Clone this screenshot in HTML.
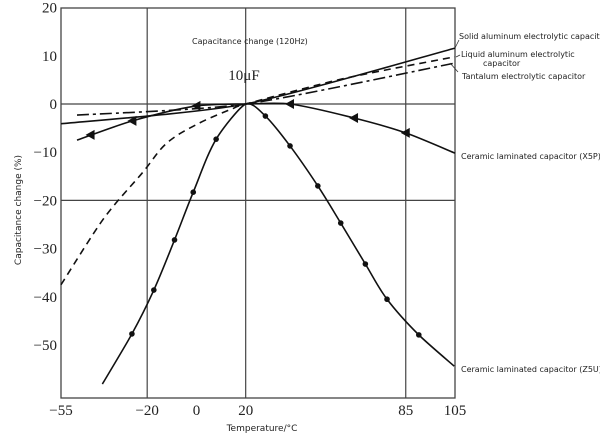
<!DOCTYPE html>
<html><head><meta charset="utf-8"><style>
body{margin:0;background:#fff}
svg text{fill:#222}
.s{font-family:"DejaVu Sans","Liberation Sans",sans-serif;font-size:8px}
.t{font-family:"Liberation Serif",serif;font-size:15px}
</style></head><body>
<svg id="c" width="600" height="439" xmlns="http://www.w3.org/2000/svg"></svg>
<script>
const xTicks=[-55,-20,0,20,85,105];
const xGrid=[-20,20,85];
const yTicks=[20,10,0,-10,-20,-30,-40,-50];
const yGrid=[0,-20];
const solidT=[-55,20,105], solidV=[-4.1,0,11.6];
const liquidT=[-55,-38,-22,-12,1,15,20,60,105], liquidV=[-37.5,-24,-14.3,-8.1,-4,-0.9,0,5.3,9.8];
const tantT=[-48.5,20,105], tantV=[-2.3,0,8.5];
const x5pT=[-48.5,-26,0,20,38,64,85,105], x5pV=[-7.5,-3.5,-0.4,0,0,-2.9,-6,-10.2];
const x5pMarkT=[-43,-26,0,38,64,85], x5pMarkV=[-6.4,-3.5,-0.4,0,-2.9,-6];
const z5uT=[-38.2,-26.2,-17.3,-8.9,-1.3,8,20,28,38,49.3,58.6,68.6,77.4,90.3,104.7];
const z5uV=[-58.1,-47.7,-38.6,-28.2,-18.3,-7.3,0,-2.5,-8.7,-17,-24.7,-33.2,-40.5,-47.9,-54.4];
const z5uMarkT=[-26.2,-17.3,-8.9,-1.3,8,28,38,49.3,58.6,68.6,77.4,90.3];
const z5uMarkV=[-47.7,-38.6,-28.2,-18.3,-7.3,-2.5,-8.7,-17,-24.7,-33.2,-40.5,-47.9];

const X0=61,X1=455,Y0=8,Y1=398;
const xs=t=>X0+(t+55)*(X1-X0)/160;
const ys=v=>104-v*4.82;
const svg=document.getElementById('c');
const NS='http://www.w3.org/2000/svg';
function mk(tag,a,name){const e=document.createElementNS(NS,tag);for(const k in a)e.setAttribute(k,a[k]);


svg.appendChild(e);return e;}
function txt(x,y,s,cls,name,anchor){const e=mk('text',{x:x,y:y,class:cls,'text-anchor':anchor||'start'},name);e.textContent=s;return e;}
mk('rect',{x:X0,y:Y0,width:X1-X0,height:Y1-Y0,fill:'none',stroke:'#444','stroke-width':1.3},'plot-frame');
xGrid.forEach(t=>mk('line',{x1:xs(t),x2:xs(t),y1:Y0,y2:Y1,stroke:'#444','stroke-width':1.2},'x-gridline'));
yGrid.forEach(v=>mk('line',{x1:X0,x2:X1,y1:ys(v),y2:ys(v),stroke:'#444','stroke-width':1.2},'y-gridline'));
xTicks.forEach(t=>txt(xs(t),415,(t<0?'\u2212'+(-t):t),'t','x-tick-label','middle'));
yTicks.forEach(v=>txt(57,ys(v)+5,(v<0?'\u2212'+(-v):v),'t','y-tick-label','end'));
function path(T,V,name,dash,w){let p=[];for(let i=0;i<T.length;i++)p.push([xs(T[i]),ys(V[i])]);
let d='M'+p[0][0]+','+p[0][1];
for(let i=0;i<p.length-1;i++){const a=p[Math.max(0,i-1)],b=p[i],c=p[i+1],e=p[Math.min(p.length-1,i+2)];
const k=(i==0||i==p.length-2||(T[i+1]==20)||(T[i]==20))?0.12:0.17;
d+=' C'+(b[0]+(c[0]-a[0])*k)+','+(b[1]+(c[1]-a[1])*k)+' '+(c[0]-(e[0]-b[0])*k)+','+(c[1]-(e[1]-b[1])*k)+' '+c[0]+','+c[1];}
const o={d:d,fill:'none',stroke:'#111','stroke-width':w||1.6};if(dash)o['stroke-dasharray']=dash;return mk('path',o,name);}
path(solidT,solidV,'solid-aluminum-line');
path(liquidT,liquidV,'liquid-aluminum-line','7,5');
path(tantT,tantV,'tantalum-line','12,4,3,4');
path(x5pT,x5pV,'x5p-line');
path(z5uT,z5uV,'z5u-line');
x5pMarkT.forEach((t,i)=>{const x=xs(t),y=ys(x5pMarkV[i]);mk('polygon',{points:(x-5)+','+y+' '+(x+4)+','+(y-5)+' '+(x+4)+','+(y+5),fill:'#111'},'x5p-marker');});
z5uMarkT.forEach((t,i)=>mk('circle',{cx:xs(t),cy:ys(z5uMarkV[i]),r:2.8,fill:'#111'},'z5u-marker'));
// leaders
mk('line',{x1:455,y1:48,x2:459,y2:40,stroke:'#333','stroke-width':0.8},'leader-solid');
mk('line',{x1:456,y1:57,x2:460,y2:55,stroke:'#333','stroke-width':0.8},'leader-liquid');
mk('line',{x1:450,y1:63,x2:458,y2:72,stroke:'#333','stroke-width':0.8},'leader-tantalum');
txt(459,39,'Solid aluminum electrolytic capacito','s','label-solid-aluminum');
txt(461,57,'Liquid aluminum electrolytic','s','label-liquid-aluminum');
txt(483,66,'capacitor','s','label-liquid-aluminum-2');
txt(462,79,'Tantalum electrolytic capacitor','s','label-tantalum');
txt(461,159,'Ceramic laminated capacitor (X5P)','s','label-x5p');
txt(461,372,'Ceramic laminated capacitor (Z5U)','s','label-z5u');
txt(192,44,'Capacitance change (120Hz)','s','chart-subtitle');
txt(244,80,'10\u03bcF','t','capacitance-label','middle');
txt(262,431,'Temperature/\u00b0C','s','x-axis-title','middle').setAttribute('style','font-size:9px');
const yl=txt(0,0,'Capacitance change (%)','s','y-axis-title','middle');
yl.setAttribute('transform','translate(21,210) rotate(-90)');yl.setAttribute('style','font-size:9px');
</script>
</body></html>
